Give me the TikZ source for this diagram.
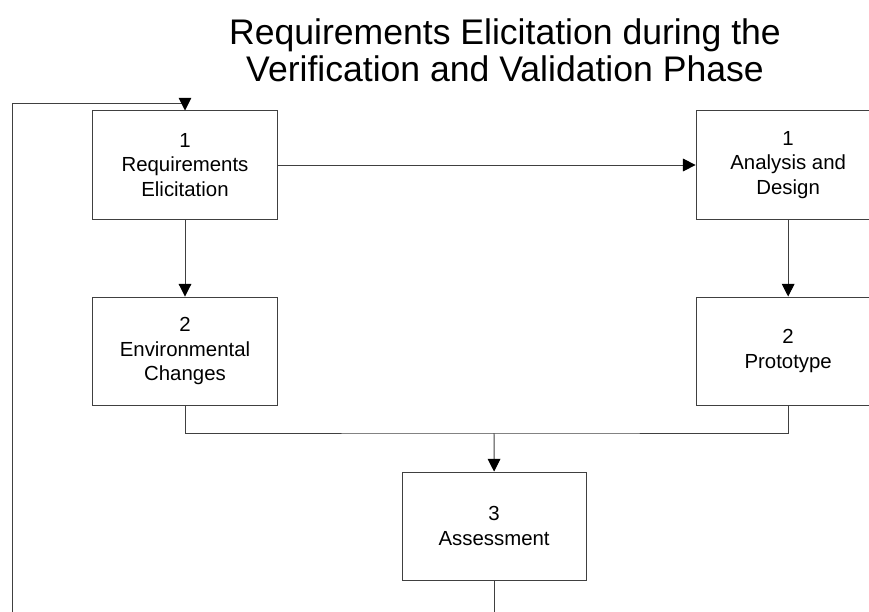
\documentclass[tikz,border=0pt]{standalone}
\usepackage{fontspec}
\setmainfont{Liberation Sans}
\usetikzlibrary{positioning,arrows.meta}

\tikzstyle{phasebox}=[draw=black!75,line width=0.7pt,minimum width=4.6cm,minimum height=2.7cm,align=center,font=\fontsize{14.5}{17.4}\selectfont]
\tikzstyle{flow}=[draw=black!75,line width=0.7pt,-{Triangle[length=9pt,width=9pt,black]}]
\tikzstyle{link}=[draw=black!75,line width=0.7pt]
\newcommand{\phasenode}[4]{\node[phasebox,#4] (#1) {#2\\#3};}

\begin{document}
\begin{tikzpicture}[x=0.025cm,y=-0.025cm,on grid]
    \useasboundingbox (0,0) rectangle (869,612);
    \clip (0,0) rectangle (869,612);
    % title
    \node[align=center,font=\fontsize{25.3}{26.1}\selectfont] (title) at (505,50)
        {Requirements Elicitation during the\\Verification and Validation Phase};
    % phases
    \phasenode{req}{1}{Requirements\\Elicitation}{at={(185,165)}}
    \phasenode{design}{1}{Analysis and\\Design}{right=15.075cm of req}
    \phasenode{env}{2}{Environmental\\Changes}{below=4.65cm of req}
    \phasenode{proto}{2}{Prototype}{below=4.65cm of design}
    \phasenode{assess}{3}{Assessment}{below right=4.375cm and 7.725cm of env}

    \coordinate (join) at (494,433);
    \coordinate (loopbot) at (12,640);
    \coordinate (looptop) at (12,103);

    \draw[flow] (req) -- (design);
    \draw[flow] (req) -- (env);
    \draw[flow] (design) -- (proto);
    \draw[link] (env.south) |- (join) -| (proto.south);
    \draw[flow] (join) -- (assess.north);
    \draw[flow] (assess.south) |- (loopbot) -- (looptop) -| (req.north);
\end{tikzpicture}
\end{document}
